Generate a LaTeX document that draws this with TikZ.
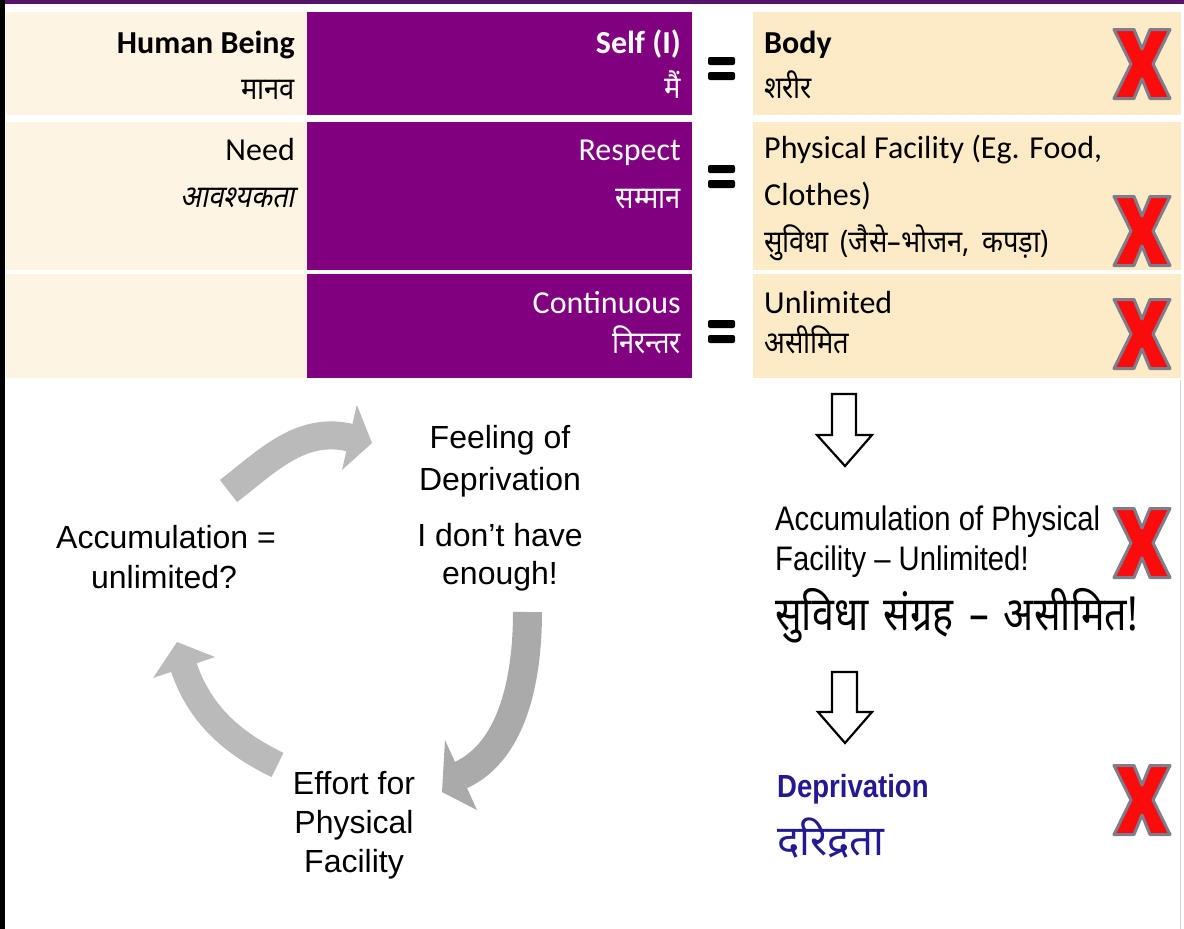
\documentclass[tikz,border=0pt]{standalone}
\usepackage{fontspec}
\setmainfont{Carlito}
\newfontfamily\hin[Script=Devanagari,FakeStretch=0.88]{Noto Sans}
\newfontfamily\hinsl[Script=Devanagari,FakeSlant=0.2,FakeStretch=0.88]{Noto Sans}
\newfontfamily\hinc[Script=Devanagari,FakeStretch=0.84]{Noto Sans}
\newfontfamily\hinb[Script=Devanagari]{Noto Sans}
\newfontfamily\ari{Liberation Sans}
\newfontfamily\arin[FakeStretch=0.86]{Liberation Sans}
\definecolor{cream}{RGB}{253,244,228}
\definecolor{wheatc}{RGB}{253,235,199}
\definecolor{purp}{RGB}{128,0,128}
\definecolor{topbar}{RGB}{85,20,105}
\definecolor{arrowlt}{RGB}{186,186,186}
\definecolor{arrowdk}{RGB}{170,170,170}
\definecolor{xred}{RGB}{250,12,12}
\definecolor{xgrey}{RGB}{125,125,140}
\definecolor{dblue}{RGB}{35,25,145}
\tikzset{
  lat/.style={inner sep=0pt, text=black, font=\fontsize{32pt}{38pt}\selectfont},
  latb/.style={lat, font=\fontsize{32pt}{38pt}\selectfont\bfseries},
  latw/.style={lat, text=white},
  latwb/.style={latb, text=white},
  hi/.style={inner sep=0pt, text=black, font=\fontsize{31pt}{36pt}\selectfont\hin},
  hisl/.style={hi, font=\fontsize{31pt}{36pt}\selectfont\hinsl},
  hiw/.style={hi, text=white},
  cyc/.style={inner sep=0pt, text=black, font=\fontsize{32pt}{38pt}\selectfont\ari},
  arn/.style={inner sep=0pt, text=black, font=\fontsize{34pt}{40pt}\selectfont\arin},
  hib/.style={inner sep=0pt, text=black, font=\fontsize{47pt}{52pt}\selectfont\hinc},
  depb/.style={inner sep=0pt, text=dblue, font=\fontsize{32pt}{38pt}\selectfont\arin\bfseries},
  dephi/.style={inner sep=0pt, text=dblue, font=\fontsize{42pt}{48pt}\selectfont\hinb\bfseries},
  eqbar/.style={fill=black, rounded corners=2pt},
  hollow/.style={draw=black, fill=white, line width=2.2pt, line join=miter},
  xmark/.pic={\filldraw[fill=xred, draw=xgrey, line width=3pt, line join=round]
     (-28,-34.5) -- (-8,-34.5) -- (0,-15) -- (8,-34.5) -- (28,-34.5) -- (11,0)
     -- (28,34.5) -- (8,34.5) -- (0,15) -- (-8,34.5) -- (-28,34.5) -- (-11,0) -- cycle;}
}
\begin{document}
\begin{tikzpicture}[x=1pt,y=-1pt]
\useasboundingbox (0,0) rectangle (1184,929);
\fill[white] (0,0) rectangle (1184,929);
% frame strips
\fill[topbar] (0,0) rectangle (1184,4);
\fill[black] (0,0) rectangle (5,929);
\draw[gray!35, line width=1.5pt] (1180.5,380) -- (1180.5,929);
% table cells
\fill[cream] (6,12) rectangle (307,115);
\fill[cream] (6,122) rectangle (307,270);
\fill[cream] (6,274) rectangle (307,378);
\fill[purp] (307,12) rectangle (692,115);
\fill[purp] (307,122) rectangle (692,270);
\fill[purp] (307,274) rectangle (692,378);
\fill[wheatc] (753,12) rectangle (1181,115);
\fill[wheatc] (753,122) rectangle (1181,270);
\fill[wheatc] (753,274) rectangle (1181,378);
% equals signs
\fill[eqbar] (708,57) rectangle (735,65);
\fill[eqbar] (708,72) rectangle (735,80);
\fill[eqbar] (708,165) rectangle (735,173);
\fill[eqbar] (708,180) rectangle (735,188);
\fill[eqbar] (708,320) rectangle (735,328);
\fill[eqbar] (708,335) rectangle (735,343);
% table text
\node[latb, anchor=base east] (hb) at (295,53) {Human Being};
\node[hi, anchor=base east] (hbh) at (295,99) {मानव};
\node[lat, anchor=base east] (need) at (295,160) {Need};
\node[hisl, anchor=base east] (needh) at (295,207) {आवश्यकता};
\node[latwb, anchor=base east] (self) at (681,53) {Self (I)};
\node[hiw, anchor=base east] (selfh) at (681,98) {मैं};
\node[latw, anchor=base east] (resp) at (681,160) {Respect};
\node[hiw, anchor=base east] (resph) at (681,208) {सम्मान};
\node[latw, anchor=base east] (cont) at (681,313) {Continuous};
\node[hiw, anchor=base east] (conth) at (681,353) {निरन्तर};
\node[latb, anchor=base west] (body) at (764,53) {Body};
\node[hi, anchor=base west] (bodyh) at (764,98) {शरीर};
\node[lat, anchor=base west] (pf1) at (764,158) {Physical Facility (Eg. Food,};
\node[lat, anchor=base west] (pf2) at (764,205) {Clothes)};
\node[hi, anchor=base west] (pfh) at (764,252) {सुविधा\hspace{5pt} (जैसे–भोजन,\hspace{5pt} कपड़ा)};
\node[lat, anchor=base west] (unl) at (764,313) {Unlimited};
\node[hi, anchor=base west] (unlh) at (764,353) {असीमित};
% red crosses
\pic at (1142,64) {xmark};
\pic at (1142,231) {xmark};
\pic at (1142,334) {xmark};
\pic at (1142,543) {xmark};
\pic at (1142,800) {xmark};
% hollow down arrows
\draw[hollow] (832,394) -- (856,394) -- (856,435) -- (872,435) -- (845,466) -- (817,435) -- (832,435) -- cycle;
\draw[hollow] (832,672) -- (857,672) -- (857,712) -- (872,712) -- (845,743) -- (818,712) -- (832,712) -- cycle;
% right column text
\node[arn, anchor=base west] (acc1) at (775,530) {Accumulation of Physical};
\node[arn, anchor=base west] (acc2) at (775,570) {Facility – Unlimited!};
\node[hib, anchor=base west] (acch) at (775,630) {सुविधा\hspace{5pt} संग्रह\hspace{5pt} –\hspace{5pt} असीमित!};
\node[depb, anchor=base west] (dep) at (777,797) {Deprivation};
\node[dephi, anchor=base west] (deph) at (777,855) {दरिद्रता};
% cycle text
\node[cyc, anchor=base] (feel1) at (500,448) {Feeling of};
\node[cyc, anchor=base] (feel2) at (500,490) {Deprivation};
\node[cyc, anchor=base] (feel3) at (500,546) {I don’t have};
\node[cyc, anchor=base] (feel4) at (500,584) {enough!};
\node[cyc, anchor=base] (accu1) at (166,548) {Accumulation =};
\node[cyc, anchor=base] (accu2) at (164,588) {unlimited?};
\node[cyc, anchor=base] (eff1) at (354,794) {Effort for};
\node[cyc, anchor=base] (eff2) at (354,833) {Physical};
\node[cyc, anchor=base] (eff3) at (354,872) {Facility};
% cycle arrows
\draw[arrowlt, line width=28pt] (228.5,491) .. controls (268,460.5) and (300.75,426.25) .. (350,437.6);
\fill[arrowlt] (356.8,404.8) -- (372,443) -- (342,470) -- cycle;
\draw[arrowdk, line width=29pt] (527.5,612) .. controls (527.5,672) and (515.5,750) .. (460.6,775.2);
\fill[arrowdk] (445,740) -- (442,792) -- (477,810) -- cycle;
\draw[arrowlt, line width=27pt] (277.5,765) .. controls (232.5,743) and (200,714.9) .. (183.7,667);
\fill[arrowlt] (153,678) -- (177,642) -- (215,657) -- cycle;
\end{tikzpicture}
\end{document}
